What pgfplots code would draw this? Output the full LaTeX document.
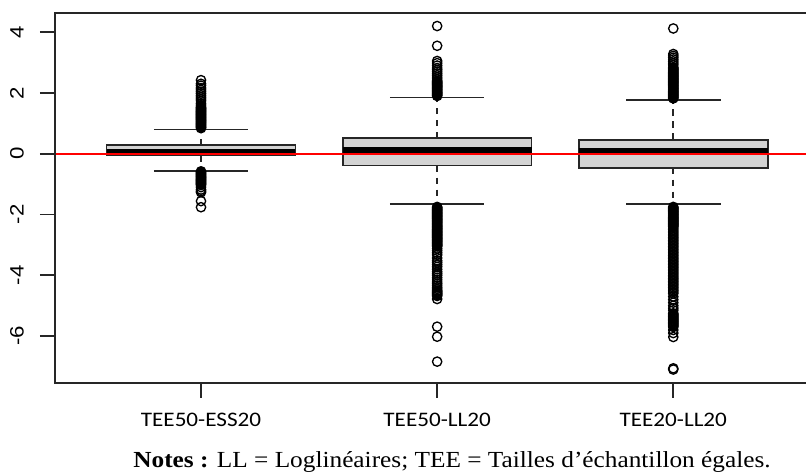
\documentclass[border=0pt]{standalone}
\usepackage{fontspec}
\setmainfont{Liberation Serif}
\newfontfamily\notefont[FakeStretch=1.1]{Liberation Serif}
\newfontfamily\xlabfont[FakeStretch=1.12]{Carlito}
\newfontfamily\ylabfont[FakeStretch=1.15]{Liberation Sans}
\usepackage{pgfplots}
\pgfplotsset{compat=1.18}

\definecolor{boxgray}{HTML}{D3D3D3}
\definecolor{framegray}{HTML}{262626}
\definecolor{refred}{rgb}{1,0,0}

\pgfplotsset{
  boxst/.style={draw=framegray, fill=boxgray, line width=1.3pt, line join=miter},
  medst/.style={draw=black, line width=4.2pt},
  whst/.style={draw=framegray, line width=1.3pt, dash pattern=on 5pt off 4pt},
  capst/.style={draw=framegray, line width=1.3pt},
  outl/.style={only marks, mark=o, mark size=3.5pt,
    mark options={draw=black, line width=1.0pt, solid}},
}

\begin{document}
\begin{tikzpicture}
\begin{axis}[
  name=ax,
  anchor=south west,
  scale only axis,
  width=563.25pt, height=277.7pt,
  xmin=0.3817, xmax=3.562,
  ymin=-7.543, ymax=4.638,
  clip=false,
  axis line style={draw=none},
  tick pos=left,
  tick align=outside,
  major tick length=11.25pt,
  tick style={draw=framegray, line width=1.3pt},
  xtick={1,2,3},
  xticklabels={TEE50-ESS20, TEE50-LL20, TEE20-LL20},
  ytick={-6,-4,-2,0,2,4},
  yticklabels={-6,-4,-2,0,2,4},
  xticklabel style={font=\xlabfont\fontsize{15.5}{18}\selectfont, anchor=north, inner sep=0pt, yshift=-11pt},
  yticklabel style={font=\ylabfont\fontsize{14.5}{17}\selectfont, rotate=90, anchor=south, inner sep=0pt, yshift=12pt},
]
% whiskers and staples
\addplot[whst] coordinates {(1,0.28) (1,0.80)};
\addplot[whst] coordinates {(1,-0.05) (1,-0.56)};
\addplot[capst] coordinates {(0.8,0.80) (1.2,0.80)};
\addplot[capst] coordinates {(0.8,-0.56) (1.2,-0.56)};
\addplot[whst] coordinates {(2,0.51) (2,1.85)};
\addplot[whst] coordinates {(2,-0.39) (2,-1.66)};
\addplot[capst] coordinates {(1.8,1.85) (2.2,1.85)};
\addplot[capst] coordinates {(1.8,-1.66) (2.2,-1.66)};
\addplot[whst] coordinates {(3,0.45) (3,1.77)};
\addplot[whst] coordinates {(3,-0.46) (3,-1.66)};
\addplot[capst] coordinates {(2.8,1.77) (3.2,1.77)};
\addplot[capst] coordinates {(2.8,-1.66) (3.2,-1.66)};

% boxes (quartiles) and medians
\addplot[boxst] coordinates {(0.6,-0.05) (1.4,-0.05) (1.4,0.28) (0.6,0.28) (0.6,-0.05) (1.4,-0.05)};
\addplot[boxst] coordinates {(1.6,-0.39) (2.4,-0.39) (2.4,0.51) (1.6,0.51) (1.6,-0.39) (2.4,-0.39)};
\addplot[boxst] coordinates {(2.6,-0.46) (3.4,-0.46) (3.4,0.45) (2.6,0.45) (2.6,-0.46) (3.4,-0.46)};
\addplot[medst] coordinates {(0.6,0.07) (1.4,0.07)};
\addplot[medst] coordinates {(1.6,0.12) (2.4,0.12)};
\addplot[medst] coordinates {(2.6,0.09) (3.4,0.09)};

% outliers, TEE50-ESS20
\addplot[outl] coordinates {
 (1,0.840) (1,0.865) (1,0.890) (1,0.915) (1,0.940) (1,0.965) (1,0.990) (1,1.015)
 (1,1.040) (1,1.065) (1,1.090) (1,1.115) (1,1.140) (1,1.165) (1,1.190) (1,1.215)
 (1,1.240) (1,1.265) (1,1.290) (1,1.315) (1,1.340) (1,1.365) (1,1.390) (1,1.415)
 (1,1.440) (1,1.465) (1,1.490) (1,1.515) (1,1.540) (1,1.60) (1,1.66) (1,1.74)
 (1,1.80) (1,1.86) (1,1.92) (1,1.98) (1,2.04) (1,2.10) (1,2.16) (1,2.24)
 (1,2.30) (1,2.42)
 (1,-0.580) (1,-0.605) (1,-0.630) (1,-0.655) (1,-0.680) (1,-0.705) (1,-0.730)
 (1,-0.755) (1,-0.780) (1,-0.805) (1,-0.830) (1,-0.855) (1,-0.880) (1,-0.905)
 (1,-0.930) (1,-0.955) (1,-0.980) (1,-1.005) (1,-1.030) (1,-1.10) (1,-1.18)
 (1,-1.23) (1,-1.27) (1,-1.56) (1,-1.76)
};
% outliers, TEE50-LL20
\addplot[outl] coordinates {
 (2,1.900) (2,1.925) (2,1.950) (2,1.975) (2,2.000) (2,2.025) (2,2.050) (2,2.075)
 (2,2.100) (2,2.125) (2,2.150) (2,2.175) (2,2.200) (2,2.225) (2,2.250) (2,2.275)
 (2,2.300) (2,2.325) (2,2.350) (2,2.375) (2,2.400) (2,2.46) (2,2.52) (2,2.58)
 (2,2.64) (2,2.70) (2,2.76) (2,2.82) (2,2.90) (2,2.98) (2,3.05) (2,3.55) (2,4.20)
 (2,-1.750) (2,-1.775) (2,-1.800) (2,-1.825) (2,-1.850) (2,-1.875) (2,-1.900)
 (2,-1.925) (2,-1.950) (2,-1.975) (2,-2.000) (2,-2.025) (2,-2.050) (2,-2.075)
 (2,-2.100) (2,-2.125) (2,-2.150) (2,-2.175) (2,-2.200) (2,-2.225) (2,-2.250)
 (2,-2.275) (2,-2.300) (2,-2.325) (2,-2.350) (2,-2.375) (2,-2.400) (2,-2.425)
 (2,-2.450) (2,-2.475) (2,-2.500) (2,-2.525) (2,-2.550) (2,-2.575) (2,-2.600)
 (2,-2.625) (2,-2.650) (2,-2.675) (2,-2.700) (2,-2.725) (2,-2.750) (2,-2.775)
 (2,-2.800) (2,-2.825) (2,-2.850) (2,-2.875) (2,-2.900) (2,-2.925) (2,-2.950)
 (2,-2.975) (2,-3.000) (2,-3.025) (2,-3.050)
 (2,-3.12) (2,-3.19) (2,-3.26) (2,-3.33) (2,-3.43) (2,-3.52) (2,-3.58) (2,-3.65)
 (2,-3.72) (2,-3.80) (2,-3.88) (2,-3.94) (2,-4.00) (2,-4.08) (2,-4.15) (2,-4.22)
 (2,-4.28) (2,-4.34) (2,-4.40) (2,-4.45) (2,-4.50) (2,-4.53) (2,-4.56) (2,-4.59)
 (2,-4.62) (2,-4.65) (2,-4.68) (2,-4.78) (2,-5.69) (2,-6.02) (2,-6.84)
};
% outliers, TEE20-LL20
\addplot[outl] coordinates {
 (3,1.820) (3,1.845) (3,1.870) (3,1.895) (3,1.920) (3,1.945) (3,1.970) (3,1.995)
 (3,2.020) (3,2.045) (3,2.070) (3,2.095) (3,2.120) (3,2.145) (3,2.170) (3,2.195)
 (3,2.220) (3,2.245) (3,2.270) (3,2.295) (3,2.320) (3,2.345) (3,2.370) (3,2.395)
 (3,2.420) (3,2.445) (3,2.470) (3,2.495) (3,2.520) (3,2.545) (3,2.570) (3,2.595)
 (3,2.620) (3,2.645) (3,2.670) (3,2.695) (3,2.720) (3,2.745) (3,2.770) (3,2.795)
 (3,2.820) (3,2.845) (3,2.92) (3,2.98) (3,3.04) (3,3.10) (3,3.16) (3,3.22)
 (3,3.28) (3,4.12)
 (3,-1.750) (3,-1.775) (3,-1.800) (3,-1.825) (3,-1.850) (3,-1.875) (3,-1.900)
 (3,-1.925) (3,-1.950) (3,-1.975) (3,-2.000) (3,-2.025) (3,-2.050) (3,-2.075)
 (3,-2.100) (3,-2.125) (3,-2.150) (3,-2.175) (3,-2.200) (3,-2.225) (3,-2.250)
 (3,-2.275) (3,-2.300) (3,-2.325) (3,-2.350) (3,-2.375) (3,-2.400)
 (3,-2.45) (3,-2.50) (3,-2.55) (3,-2.60) (3,-2.65) (3,-2.70) (3,-2.75) (3,-2.80)
 (3,-2.85) (3,-2.90) (3,-2.95) (3,-3.00) (3,-3.05) (3,-3.10) (3,-3.15) (3,-3.20)
 (3,-3.25) (3,-3.30) (3,-3.35) (3,-3.40) (3,-3.45) (3,-3.50) (3,-3.55) (3,-3.60)
 (3,-3.65) (3,-3.70) (3,-3.75) (3,-3.80) (3,-3.85) (3,-3.90) (3,-3.95) (3,-4.00)
 (3,-4.05) (3,-4.10) (3,-4.15) (3,-4.20) (3,-4.25) (3,-4.30) (3,-4.35) (3,-4.40)
 (3,-4.45) (3,-4.50) (3,-4.55) (3,-4.60)
 (3,-4.70) (3,-4.80) (3,-4.90) (3,-5.00) (3,-5.08) (3,-5.15) (3,-5.25) (3,-5.28)
 (3,-5.31) (3,-5.34) (3,-5.37) (3,-5.40) (3,-5.43) (3,-5.46) (3,-5.49) (3,-5.52)
 (3,-5.55) (3,-5.58) (3,-5.61) (3,-5.64) (3,-5.67) (3,-5.70) (3,-5.80) (3,-5.90)
 (3,-6.03) (3,-7.06) (3,-7.10)
};

% reference line at zero
\addplot[draw=refred, line width=1.4pt, forget plot] coordinates {(0.3817,0) (3.562,0)};

% open frame (the right edge lies beyond the page)
\draw[framegray, line width=1.3pt] (rel axis cs:1,1) -- (rel axis cs:0,1)
  -- (rel axis cs:0,0) -- (rel axis cs:1,0);
\end{axis}

\node[anchor=base, inner sep=0pt, font=\notefont\fontsize{17.25}{20}\selectfont]
  at ([shift={(297.75pt,-63.2pt)}]ax.south west)
  {\textbf{Notes :} LL = Loglinéaires; TEE = Tailles d’échantillon égales.};

\pgfresetboundingbox
\useasboundingbox ([shift={(-41.25pt,-68.25pt)}]ax.south west) rectangle ++(604.5pt,355.5pt);
\end{tikzpicture}
\end{document}
